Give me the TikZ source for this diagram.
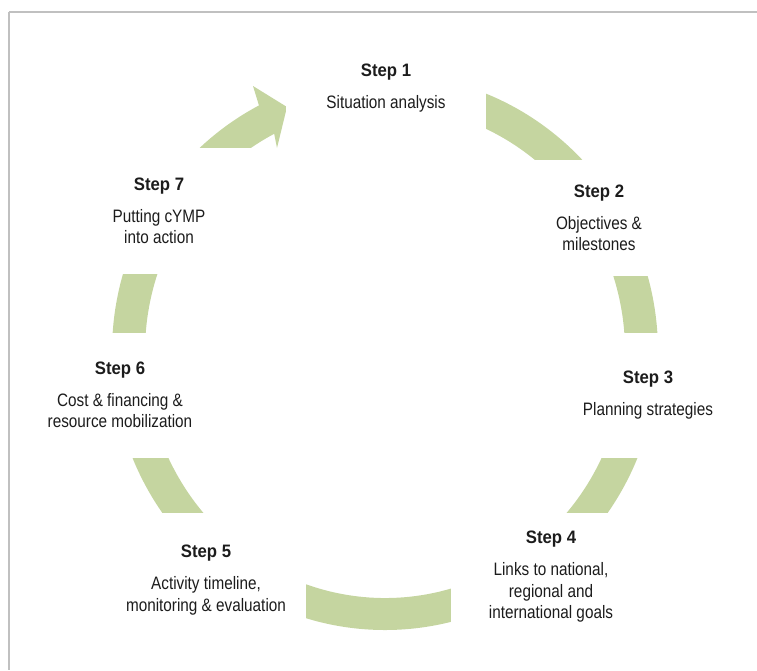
\documentclass[tikz,border=0pt]{standalone}
\usepackage{fontspec}
\setmainfont{Liberation Sans}[FakeStretch=0.85]
\newfontfamily\stepfont{Liberation Sans}[FakeStretch=0.93]
\usetikzlibrary{calc, backgrounds}
\definecolor{leaf}{RGB}{197,213,160}
\definecolor{ink}{RGB}{28,28,28}
\definecolor{rule}{RGB}{192,192,192}
\newcommand{\stepname}[1]{{\stepfont\bfseries Step #1}\\[10pt]}
\tikzstyle{StepBox} = [
fill=white,
text=ink,
align=center,
minimum width=200pt,
font=\fontsize{18}{21.7}\selectfont]
\tikzstyle{Ring} = [fill=leaf]

\begin{document}
\begin{tikzpicture}[x=1pt, y=-1pt]
    \useasboundingbox (0,0) rectangle (757,670);
    \draw [rule, line width=2pt] (9,12) -- (757,12);
    \draw [rule, line width=1.2pt] (9,12) -- (9,670);
    \coordinate (c) at (385,352);
    \node [StepBox, minimum height=120pt] (1) at (386,88) {\stepname{1}Situation analysis};
    \node [StepBox, minimum height=116pt] (2) at (599,218) {\stepname{2}Objectives \&\\milestones};
    \node [StepBox, minimum height=125pt] (3) at (648,395) {\stepname{3}Planning strategies};
    \node [StepBox, minimum height=128pt] (4) at (551,577) {\stepname{4}Links to national,\\regional and\\international goals};
    \node [StepBox, minimum height=134pt] (5) at (206,580) {\stepname{5}Activity timeline,\\monitoring \& evaluation};
    \node [StepBox, minimum height=125pt] (6) at (120,395) {\stepname{6}Cost \& financing \&\\resource mobilization};
    \node [StepBox, minimum height=126pt] (7) at (159,211) {\stepname{7}Putting cYMP\\into action};
    \begin{pgfonlayer}{background}
        \fill [Ring] ($(c)+(-90:273 and 278)$)
            arc [start angle=-90, end angle=242.5, x radius=273, y radius=278]
            -- (253,86) -- (287,107) -- (277,148)
            -- ($(c)+(242.5:240 and 246)$)
            arc [start angle=242.5, end angle=-90, x radius=240, y radius=246] -- cycle;
    \end{pgfonlayer}
\end{tikzpicture}
\end{document}
